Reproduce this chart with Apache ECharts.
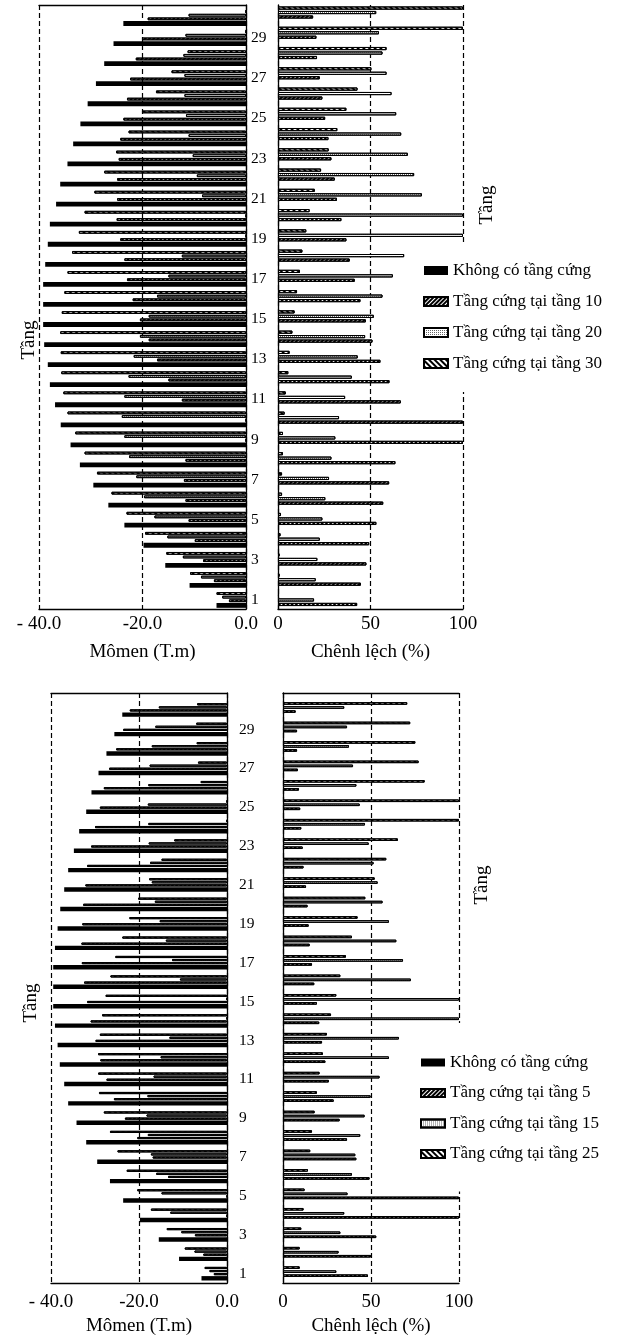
<!DOCTYPE html>
<html>
<head>
<meta charset="utf-8">
<script src="https://cdn.jsdelivr.net/npm/echarts@6.0.0/dist/echarts.min.js"></script>
<style>
html, body { margin: 0; padding: 0; background: #fff; }
#main { width: 622px; height: 1338px; }
</style>
</head>
<body>
<div id="main"></div>
<script>
var FONT = "'Liberation Serif', 'Times New Roman', serif";

// floors, bottom (1) to top (30)
var floors = ['1','2','3','4','5','6','7','8','9','10','11','12','13','14','15',
  '16','17','18','19','20','21','22','23','24','25','26','27','28','29','30'];

var nameNone = 'Không có tầng cứng';
var namesTop = ['Tầng cứng tại tầng 10', 'Tầng cứng tại tầng 20', 'Tầng cứng tại tầng 30'];
var namesBot = ['Tầng cứng tại tầng 5', 'Tầng cứng tại tầng 15', 'Tầng cứng tại tầng 25'];

// top panel - moment (T.m)
var topMomNone = [-5.7,-10.9,-15.6,-19.8,-23.5,-26.6,-29.5,-32.1,-33.9,-35.8,-36.9,-37.9,-38.3,-39.0,-39.2,
  -39.2,-39.2,-38.8,-38.3,-37.9,-36.7,-35.9,-34.5,-33.4,-32.0,-30.6,-29.0,-27.4,-25.6,-23.7];
var topMom10 = [-3.3,-6.2,-8.3,-9.9,-11.1,-11.7,-12.0,-11.7,0,0,-12.4,-15.0,-17.2,-18.8,-20.5,
  -21.9,-23.0,-23.5,-24.3,-25.0,-24.9,-24.9,-24.6,-24.3,-23.7,-23.0,-22.4,-21.3,-20.1,-19.0];
var topMom20 = [-4.6,-8.7,-12.2,-15.2,-17.7,-19.7,-21.2,-22.6,-23.5,-24.0,-23.5,-22.7,-21.7,-20.5,-18.8,
  -17.2,-15.0,-12.4,0,0,-8.5,-9.5,-10.3,-11.1,-11.6,-11.9,-11.9,-12.1,-11.7,-11.1];
var topMom30 = [-5.7,-10.8,-15.4,-19.5,-23.1,-26.0,-28.8,-31.2,-33.0,-34.5,-35.3,-35.7,-35.8,-35.9,-35.6,
  -35.1,-34.5,-33.6,-32.3,-31.2,-29.3,-27.4,-25.1,-22.7,-20.1,-17.4,-14.4,-11.3,0,0];
// top panel - difference (%)
var topDiff10 = [42.8,44.8,47.8,49.3,53.2,56.9,60.1,63.5,100,100,66.4,60.3,55.4,51.1,47.5,
  44.6,41.5,38.8,37.0,34.3,31.9,30.7,28.9,27.3,25.5,24.0,22.6,21.1,20.8,19.0];
var topDiff20 = [19.5,20.4,21.3,22.6,24.0,25.6,27.6,28.9,31.0,33.0,36.3,39.9,43.1,47.1,51.8,
  56.5,62.1,68.2,100,100,77.8,73.6,70.2,66.6,63.9,61.4,58.7,56.5,54.6,53.1];
var topDiff30 = [0.5,0.9,0.9,1.4,1.6,2.2,2.2,2.7,2.7,3.6,4.2,5.6,6.3,7.8,9.0,
  10.3,11.9,13.2,15.3,17.1,19.9,23.3,27.4,32.1,37.0,43.0,50.5,58.7,100,100];

// bottom panel - moment (T.m)
var botMomNone = [-5.8,-10.9,-15.5,-19.8,-23.6,-26.6,-29.5,-32.0,-34.2,-36.1,-37.0,-38.0,-38.5,-39.1,-39.5,
  -39.5,-39.5,-39.1,-38.5,-37.9,-37.0,-36.1,-34.8,-33.6,-32.0,-30.8,-29.2,-27.4,-25.6,-23.8];
var botMom5 = [-3.0,-5.4,-7.3,0,0,-13.4,-16.9,-20.4,-23.2,-25.7,-27.4,-28.8,-29.9,-31.0,-31.8,
  -32.5,-33.0,-33.1,-32.9,-32.7,-32.2,-31.8,-30.9,-30.0,-28.9,-28.0,-26.8,-25.2,-23.6,-22.1];
var botMom15 = [-4.0,-7.4,-10.4,-12.9,-14.9,-16.1,-17.3,-18.0,-18.3,-18.1,-16.7,-15.1,-13.1,0,0,
  -10.7,-12.5,-13.9,-15.3,-16.4,-17.1,-17.5,-17.8,-17.9,-18.0,-17.9,-17.6,-17.1,-16.3,-15.5];
var botMom25 = [-5.1,-9.6,-13.7,-17.3,-20.4,-22.8,-24.9,-26.6,-28.0,-29.1,-29.3,-29.3,-28.9,-28.4,-27.6,
  -26.5,-25.4,-23.8,-22.2,-20.2,-17.7,-14.9,-12.0,0,0,-6.0,-6.6,-6.9,-7.0,-6.8];
// bottom panel - difference (%)
var botDiff5 = [48.3,50.0,53.0,100,100,49.2,41.7,36.4,32.2,28.8,26.1,24.1,22.2,20.6,19.3,
  17.8,16.5,15.2,14.6,14.0,13.1,11.7,11.2,10.4,9.8,9.1,8.5,8.0,8.0,7.2];
var botDiff15 = [30.3,31.6,32.6,34.8,36.7,39.2,41.1,43.9,46.4,49.8,54.9,60.2,65.9,100,100,
  72.7,68.2,64.4,60.2,56.6,53.8,51.5,48.7,46.6,43.6,41.7,39.8,37.5,36.4,34.8];
var botDiff25 = [9.5,9.5,10.4,11.7,12.3,14.2,15.5,16.5,18.0,19.3,20.8,22.7,25.0,27.3,30.3,
  32.6,35.8,39.2,42.4,46.8,52.1,58.7,65.3,100,100,80.5,77.1,75.2,72.3,70.6];

// bar fills
var solidBlack = { color: '#000' };
var hatchFwd = { color: '#fff', borderColor: '#000', borderWidth: 1,
  decal: { symbol: 'rect', color: '#000', dashArrayX: [1, 0], dashArrayY: [2, 1], rotation: -Math.PI / 4 } };
var dotted = { color: '#fff', borderColor: '#000', borderWidth: 1,
  decal: { symbol: 'rect', color: '#666', dashArrayX: [1, 1], dashArrayY: [1, 1] } };
var hatchBack = { color: '#fff', borderColor: '#000', borderWidth: 1,
  decal: { symbol: 'rect', color: '#000', dashArrayX: [1, 0], dashArrayY: [2, 2], rotation: Math.PI / 4 } };

var dashed = { color: '#000', width: 1.2, type: [5, 3] };
var solid = { color: '#000', width: 1.3 };

var option = {
  animation: false,
  backgroundColor: '#fff',
  textStyle: { fontFamily: FONT, color: '#000' },
  grid: [], xAxis: [], yAxis: [], series: [], legend: [], graphic: []
};

function addPlot(p) {
  var gf = option.grid.length;
  option.grid.push({ left: p.left, top: p.top, width: p.width, height: p.height });
  option.grid.push({ left: p.left, top: p.barsTop, width: p.width, height: p.barsHeight });
  var gb = gf + 1;

  option.xAxis.push({
    gridIndex: gf, type: 'value', min: p.min, max: p.max, interval: p.interval, position: 'bottom',
    axisLine: { show: true, onZero: false, lineStyle: solid },
    axisTick: { show: false },
    axisLabel: { margin: p.tickMargin, fontSize: 19, fontFamily: FONT, color: '#000', formatter: p.fmt },
    splitLine: { show: true, lineStyle: dashed },
    name: p.title, nameLocation: 'middle', nameGap: p.nameGap,
    nameTextStyle: { fontSize: 19, fontFamily: FONT, color: '#000' }
  });
  if (p.topLine) {
    option.xAxis.push({
      gridIndex: gf, type: 'value', min: p.min, max: p.max, position: 'top',
      axisLine: { show: true, onZero: false, lineStyle: solid },
      axisTick: { show: false }, axisLabel: { show: false }, splitLine: { show: false }
    });
  }
  var xb = option.xAxis.length;
  option.xAxis.push({ gridIndex: gb, type: 'value', min: p.min, max: p.max, show: false });

  option.yAxis.push({
    gridIndex: gf, type: 'value', min: 0, max: 1, position: p.yPos,
    axisLine: { show: true, onZero: false, lineStyle: solid },
    axisTick: { show: false }, axisLabel: { show: false }, splitLine: { show: false }
  });
  var yb = option.yAxis.length;
  option.yAxis.push({
    gridIndex: gb, type: 'category', data: floors, position: p.yPos,
    axisLine: { show: false }, axisTick: { show: false }, splitLine: { show: false },
    axisLabel: p.floorLabels ? {
      show: true, margin: p.labelMargin, fontSize: 15.5, fontFamily: FONT, color: '#000',
      interval: function (idx) { return idx % 2 === 0; }
    } : { show: false }
  });

  p.bars.forEach(function (b) {
    option.series.push({
      type: 'bar', name: b.name, data: b.data, xAxisIndex: xb, yAxisIndex: yb,
      barWidth: b.width, barGap: p.gap, itemStyle: b.style, silent: true
    });
  });
}

// top panel
addPlot({
  left: 39, top: 5, width: 207, height: 604, barsTop: 8, barsHeight: 602,
  min: -40, max: 0, interval: 20, yPos: 'right', topLine: true, floorLabels: true,
  labelMargin: 5, tickMargin: 6, title: 'Mômen (T.m)', nameGap: 34, gap: '30%',
  fmt: function (v) { return v === -40 ? '- 40.0' : v.toFixed(1); },
  bars: [
    { name: namesTop[2], data: topMom30, width: 2.8, style: hatchBack },
    { name: namesTop[1], data: topMom20, width: 2.8, style: dotted },
    { name: namesTop[0], data: topMom10, width: 2.8, style: hatchFwd },
    { name: nameNone, data: topMomNone, width: 4.8, style: solidBlack }
  ]
});
addPlot({
  left: 278, top: 5, width: 185, height: 604, barsTop: 2.4, barsHeight: 607.7,
  min: 0, max: 100, interval: 50, yPos: 'left', topLine: false, floorLabels: false,
  tickMargin: 6, title: 'Chênh lệch (%)', nameGap: 34, gap: '40%',
  fmt: function (v) { return String(v); },
  bars: [
    { name: namesTop[2], data: topDiff30, width: 3.2, style: hatchBack },
    { name: namesTop[1], data: topDiff20, width: 3.2, style: dotted },
    { name: namesTop[0], data: topDiff10, width: 3.2, style: hatchFwd }
  ]
});

// bottom panel
addPlot({
  left: 51, top: 693, width: 176, height: 590, barsTop: 700.3, barsHeight: 583.1,
  min: -40, max: 0, interval: 20, yPos: 'right', topLine: true, floorLabels: true,
  labelMargin: 12, tickMargin: 10, title: 'Mômen (T.m)', nameGap: 34, gap: '40%',
  fmt: function (v) { return v === -40 ? '- 40.0' : v.toFixed(1); },
  bars: [
    { name: namesBot[2], data: botMom25, width: 2.2, style: hatchBack },
    { name: namesBot[1], data: botMom15, width: 2.2, style: dotted },
    { name: namesBot[0], data: botMom5, width: 2.2, style: hatchFwd },
    { name: nameNone, data: botMomNone, width: 4.4, style: solidBlack }
  ]
});
addPlot({
  left: 283, top: 693, width: 176, height: 590, barsTop: 697.8, barsHeight: 583.6,
  min: 0, max: 100, interval: 50, yPos: 'left', topLine: true, floorLabels: false,
  tickMargin: 10, title: 'Chênh lệch (%)', nameGap: 34, gap: '55%',
  fmt: function (v) { return String(v); },
  bars: [
    { name: namesBot[2], data: botDiff25, width: 2.6, style: hatchBack },
    { name: namesBot[1], data: botDiff15, width: 2.6, style: dotted },
    { name: namesBot[0], data: botDiff5, width: 2.6, style: hatchFwd }
  ]
});

option.legend.push({
  orient: 'vertical', left: 418, top: 245, padding: [17, 5, 20, 5], backgroundColor: '#fff',
  itemWidth: 24, itemHeight: 9, itemGap: 14, icon: 'rect', selectedMode: false,
  textStyle: { fontSize: 17, fontFamily: FONT, color: '#000' },
  data: [nameNone, namesTop[0], namesTop[1], namesTop[2]]
});
option.legend.push({
  orient: 'vertical', left: 415, top: 1023, padding: [31, 5, 29, 5], backgroundColor: '#fff',
  itemWidth: 24, itemHeight: 8, itemGap: 13.5, icon: 'rect', selectedMode: false,
  textStyle: { fontSize: 17, fontFamily: FONT, color: '#000' },
  data: [nameNone, namesBot[0], namesBot[1], namesBot[2]]
});

function axisWord(x, y) {
  return {
    type: 'text', x: x, y: y, rotation: Math.PI / 2, silent: true,
    style: { text: 'Tầng', fontSize: 19, fontFamily: FONT, fill: '#000', align: 'center', verticalAlign: 'middle' }
  };
}
option.graphic.push(axisWord(29, 340), axisWord(487, 205), axisWord(31, 1003), axisWord(482, 885));

var chart = echarts.init(document.getElementById('main'));
chart.setOption(option);
</script>
</body>
</html>
